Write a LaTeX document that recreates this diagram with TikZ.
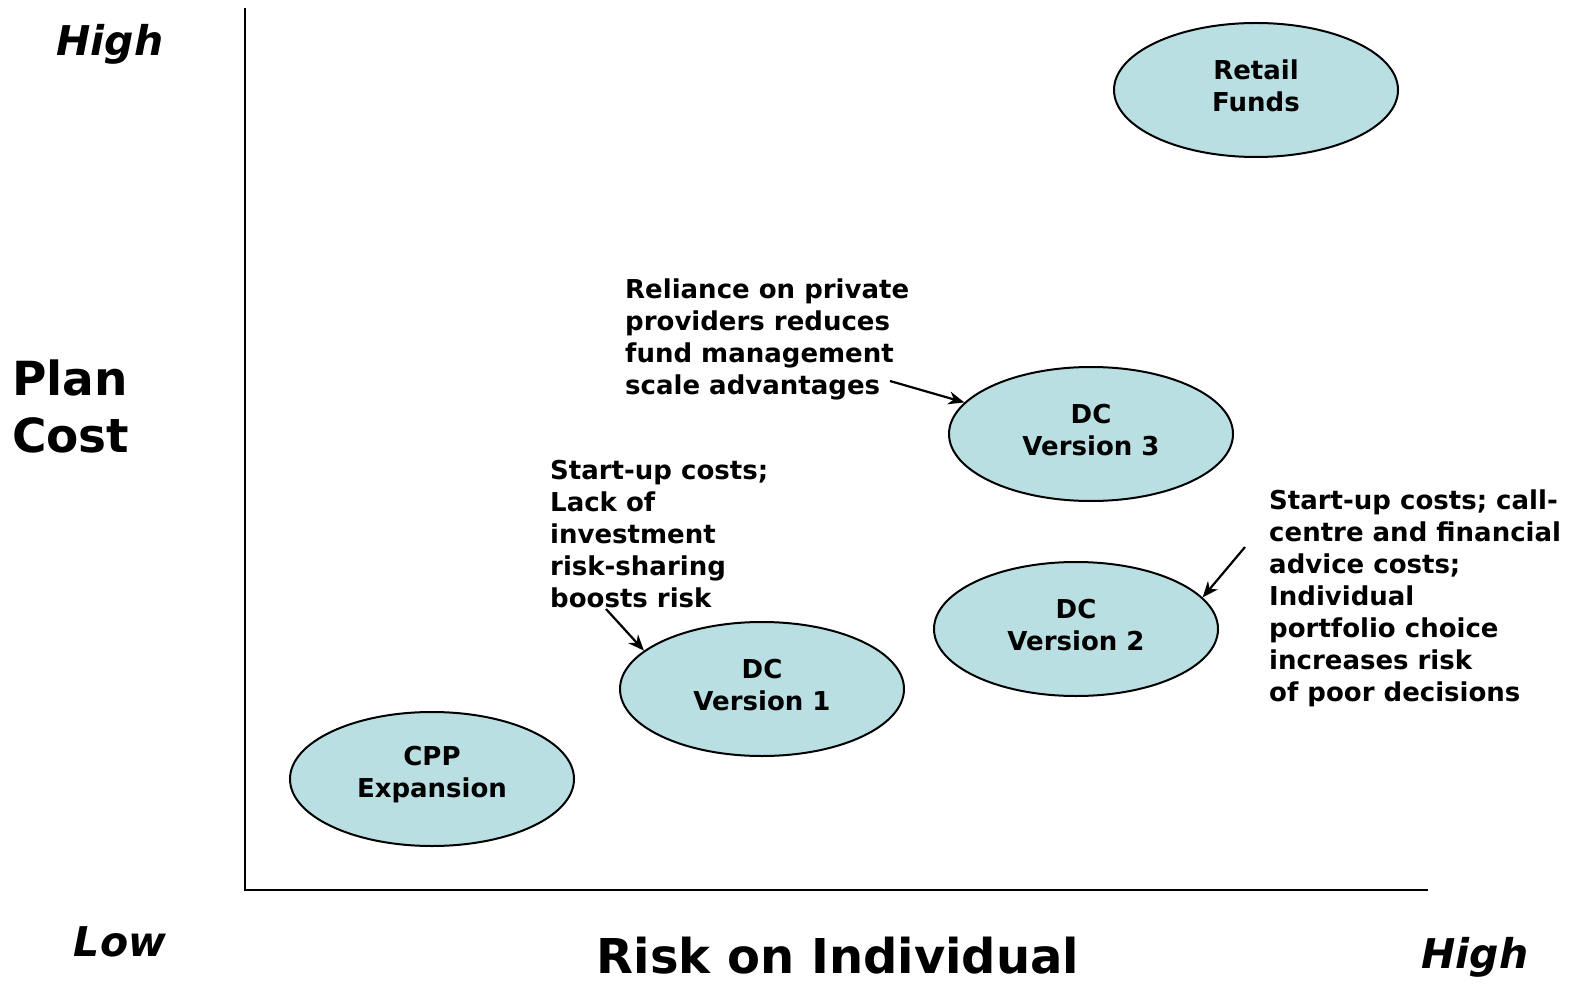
\documentclass[tikz,border=0pt]{standalone}
\usepackage{fontspec}
\setmainfont{DejaVu Sans}
\usetikzlibrary{shapes.geometric,arrows.meta}
\definecolor{bubble}{HTML}{B9DFE2}
\begin{document}
\begin{tikzpicture}[x=1pt,y=-1pt,
  bub/.style={ellipse,draw=black,line width=2pt,fill=bubble,minimum width=284pt,minimum height=134pt,inner sep=0pt},
  bubtext/.style={label={[align=center,inner sep=0pt,yshift=4pt,font=\fontsize{26}{32}\selectfont\bfseries]center:#1}},
  note/.style={anchor=north west,inner sep=0pt,align=left,font=\fontsize{26}{32}\selectfont\bfseries},
  axis/.style={line width=2.4pt},
  arr/.style={line width=2.2pt,-{Stealth[length=16pt,width=13pt]}},
  lvl/.style={inner sep=0pt,font=\fontsize{41}{48}\selectfont\bfseries\itshape},
  big/.style={inner sep=0pt,font=\fontsize{47}{57}\selectfont\bfseries}]
\useasboundingbox (0,0) rectangle (1571,984);
\coordinate (o) at (245,890);
\coordinate (ytop) at (245,8);
\coordinate (xend) at (1428,890);
\draw[axis] (ytop) -- (o) -- (xend);

\node[bub,bubtext={Retail\\Funds}] (rf) at (1256,90) {};
\node[bub,bubtext={DC\\Version 3}] (v3) at (1091,434) {};
\node[bub,bubtext={DC\\Version 2}] (v2) at (1076,629) {};
\node[bub,bubtext={DC\\Version 1}] (v1) at (762,689) {};
\node[bub,bubtext={CPP\\Expansion}] (cpp) at (432,779) {};

\node[note] (n3) at (625,279) {Reliance on private\\providers reduces\\fund management\\scale advantages};
\node[note] (n1) at (550,460) {Start-up costs;\\Lack of\\investment\\risk-sharing\\boosts risk};
\node[note] (n2) at (1269,490) {Start-up costs; call-\\centre and financial\\advice costs;\\Individual\\portfolio choice\\increases risk\\of poor decisions};

\coordinate (a3) at (890,381);
\coordinate (a1) at (606,609);
\coordinate (a2) at (1245,547);
\draw[arr] (a3) -- (v3.166);
\draw[arr] (a1) -- (v1.162);
\draw[arr] (a2) -- (v2.14);

\node[lvl] (yhigh) at (110,44) {High};
\node[lvl] (xlow) at (120,942) {Low};
\node[lvl] (xhigh) at (1475,957) {High};
\node[big,anchor=west] (plan) at (12,378) {Plan};
\node[big,anchor=west] (cost) at (12,435) {Cost};
\node[big,font=\fontsize{48}{57}\selectfont\bfseries,anchor=base,text depth=0pt] (risk) at (838,973) {Risk on Individual};
\end{tikzpicture}
\end{document}
